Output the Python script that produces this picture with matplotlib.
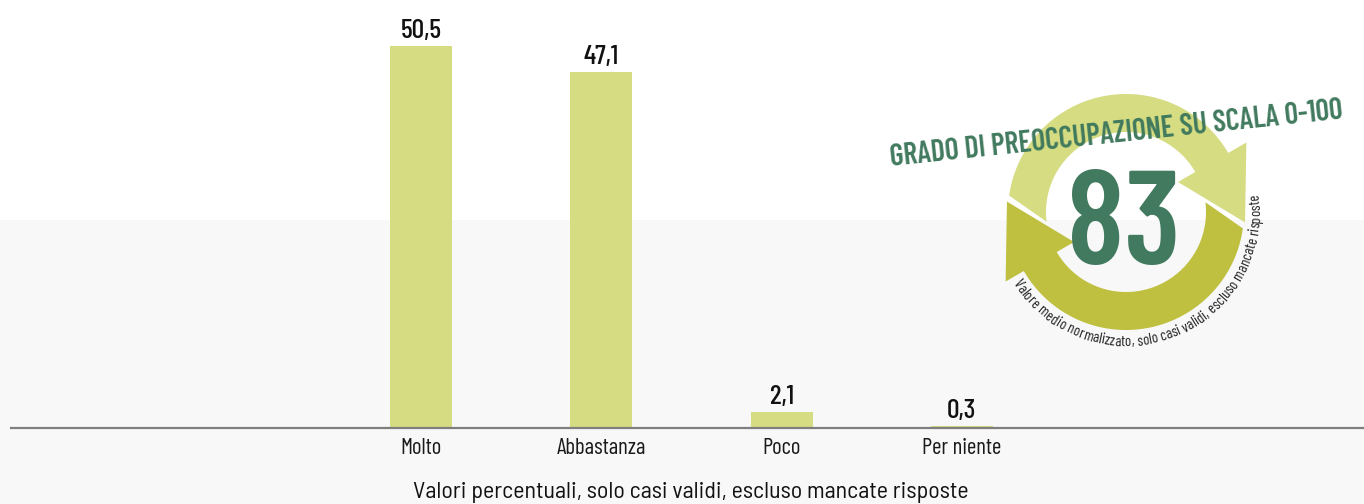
import numpy as np
import matplotlib
matplotlib.use("Agg")
import matplotlib.pyplot as plt
from matplotlib import font_manager as fm
from matplotlib.patches import Polygon, Rectangle

# ---------------- data ----------------
categories = ["Molto", "Abbastanza", "Poco", "Per niente"]
values = [50.5, 47.1, 2.1, 0.3]
value_labels = ["50,5", "47,1", "2,1", "0,3"]
caption = "Valori percentuali, solo casi validi, escluso mancate risposte"
badge_title = "GRADO DI PREOCCUPAZIONE SU SCALA 0-100"
badge_value = "83"
badge_note = "Valore medio normalizzato, solo casi validi, escluso mancate risposte"

# ---------------- fonts ----------------
available = {f.name for f in fm.fontManager.ttflist}
def pick(cands):
    for c in cands:
        if c in available:
            return c
    return "DejaVu Sans"

FONT = pick(["Barlow Condensed", "Roboto Condensed", "IBM Plex Sans Condensed",
             "Liberation Sans Narrow", "DejaVu Sans"])
FONT_SEMI = pick(["Barlow Semi Condensed", FONT])
plt.rcParams["font.family"] = [FONT, "DejaVu Sans"]

BAR_COLOR = "#d5dc82"
LIGHT = "#d5dc82"
DARK = "#bfbf40"
GREEN = "#417a5e"
W, H = 1364, 504

fig = plt.figure(figsize=(W / 100, H / 100), dpi=100)
fig.patch.set_facecolor("white")
fig.add_artist(Rectangle((0, 0), 1, (H - 220) / H, transform=fig.transFigure,
                         facecolor="#f8f8f8", edgecolor="none", zorder=0))

# ---------------- bar chart ----------------
px_per_unit = 382 / 50.5
spacing = 180.3
x0_px = 421
left_px, base_px, top_px = 11, 428, 12
ax = fig.add_axes([left_px / W, (H - base_px) / H, 1 - left_px / W,
                   (base_px - top_px) / H])
ax.set_facecolor("none")
x = np.arange(len(categories))
ax.bar(x, values, width=62 / spacing, color=BAR_COLOR, zorder=2)
ax.set_xlim((left_px - x0_px) / spacing, (W - x0_px) / spacing)
ax.set_ylim(0, (base_px - top_px) / px_per_unit)
for s in ["left", "right", "top"]:
    ax.spines[s].set_visible(False)
ax.spines["bottom"].set_color("#7f7f7f")
ax.spines["bottom"].set_linewidth(1.6)
ax.set_yticks([])
ax.set_xticks(x)
ax.set_xticklabels(categories, fontsize=16.5, color="#1a1a1a")
ax.tick_params(axis="x", length=0, pad=7)
for xi, v, lab in zip(x, values, value_labels):
    ax.annotate(lab, (xi, v), xytext=(0, 8), textcoords="offset pixels",
                ha="center", va="baseline", fontsize=20, fontweight="medium",
                color="#111111")

renderer = fig.canvas.get_renderer()

def measure(s, size, family, weight="normal"):
    t = fig.text(0, 0, s, fontsize=size, family=family, fontweight=weight)
    w = t.get_window_extent(renderer).width
    t.remove()
    return w

cap_size = 16 * 558 / measure(caption, 16, FONT_SEMI)
fig.text(691 / W, (H - 498) / H, caption, ha="center", va="baseline",
         fontsize=cap_size, color="#111111", family=FONT_SEMI)

# ---------------- badge (pixel coordinate overlay) ----------------
ov = fig.add_axes([0, 0, 1, 1])
ov.set_xlim(0, W)
ov.set_ylim(H, 0)
ov.axis("off")
ov.set_facecolor("none")

cx, cy = 1126, 212
r_in, r_out = 80, 118

def pt(r, deg):
    a = np.deg2rad(deg)
    return (cx + r * np.cos(a), cy - r * np.sin(a))

def arrow(start_out, start_in, head_base, tip, rot):
    sa_o, sa_i = start_out + rot, start_in + rot
    hb = head_base + rot
    outer = [pt(r_out, a) for a in np.linspace(sa_o, hb, 80)]
    head = [pt(139, hb), pt(119.5, tip + rot), pt(60, hb)]
    inner = [pt(r_in, a) for a in np.linspace(hb, sa_i, 80)]
    return outer + head + inner

light_poly = arrow(172, 187, 30, -5, 0)
dark_poly = arrow(172, 187, 30, -5, 180)
ov.add_patch(Polygon(light_poly, closed=True, facecolor=LIGHT, edgecolor="none", zorder=3))
ov.add_patch(Polygon(dark_poly, closed=True, facecolor=DARK, edgecolor="none", zorder=3))

ov.text(1124, 230, badge_value, ha="center", va="center", fontsize=95,
        fontweight="semibold", color=GREEN, zorder=5)
title_size = 20 * 453 / measure(badge_title, 20, FONT, "semibold")
ov.text(1116, 134, badge_title, ha="center", va="center", fontsize=title_size,
        fontweight="semibold", color=GREEN, rotation=6, zorder=6,
        rotation_mode="anchor")

# curved note along the outside of the ring (character positions from prefix widths)
base_size = 10
bar_w = measure("|", base_size, FONT)
edges = [measure(badge_note[:i] + "|", base_size, FONT) - bar_w if i else 0.0
         for i in range(len(badge_note) + 1)]
total = edges[-1]
r_text = 130
start_deg, end_deg = 212, 368
arc_len = np.deg2rad(end_deg - start_deg) * r_text
scale = arc_len / total
note_size = base_size * scale
for i, ch in enumerate(badge_note):
    if ch == " ":
        continue
    centre = (edges[i] + edges[i + 1]) / 2 * scale
    ang = start_deg + np.rad2deg(centre / r_text)
    px, py = pt(r_text, ang)
    ov.text(px, py, ch, fontsize=note_size, color="#222222", family=FONT,
            rotation=ang + 90, ha="center", va="center",
            rotation_mode="anchor", zorder=6)

fig.savefig("out.png", dpi=100)
